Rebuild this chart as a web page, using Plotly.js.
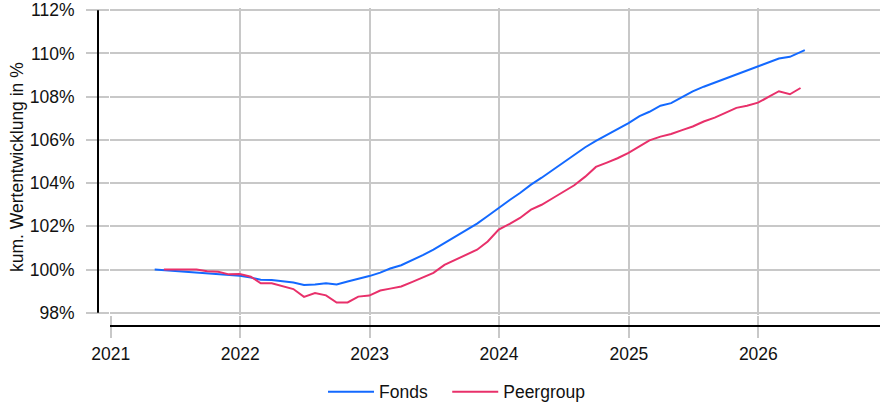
<!DOCTYPE html>
<html>
<head>
<meta charset="utf-8">
<script src="https://cdn.plot.ly/plotly-3.0.1.min.js"></script>
<style>html,body{margin:0;padding:0;background:#fff}#chart{width:880px;height:406px}</style>
</head>
<body>
<div id="chart"></div>
<script>
// Peergroup: monthly values (month ends)
const peerDates = [
 '2021-05-31','2021-06-30','2021-07-31','2021-08-31','2021-09-30','2021-10-31','2021-11-30','2021-12-31',
 '2022-01-31','2022-02-28','2022-03-31','2022-04-30','2022-05-31','2022-06-30','2022-07-31','2022-08-31','2022-09-30','2022-10-31','2022-11-30','2022-12-31',
 '2023-01-31','2023-02-28','2023-03-31','2023-04-30','2023-05-31','2023-06-30','2023-07-31','2023-08-31','2023-09-30','2023-10-31','2023-11-30','2023-12-31',
 '2024-01-31','2024-02-29','2024-03-31','2024-04-30','2024-05-31','2024-06-30','2024-07-31','2024-08-31','2024-09-30','2024-10-31','2024-11-30','2024-12-31',
 '2025-01-31','2025-02-28','2025-03-31','2025-04-30','2025-05-31','2025-06-30','2025-07-31','2025-08-31','2025-09-30','2025-10-31','2025-11-30','2025-12-31',
 '2026-01-31','2026-02-28','2026-03-31','2026-04-30'
];
const peerValues = [
 100.0,100.0,99.98,100.0,99.92,99.9,99.78,99.8,
 99.67,99.37,99.37,99.25,99.1,98.74,98.92,98.81,98.48,98.48,98.75,98.8,
 99.03,99.12,99.22,99.42,99.63,99.85,100.22,100.45,100.7,100.92,101.3,101.85,
 102.12,102.39,102.77,103.0,103.3,103.6,103.9,104.3,104.75,104.95,105.15,105.4,
 105.7,105.98,106.15,106.27,106.45,106.62,106.85,107.03,107.25,107.48,107.58,107.72,
 108.0,108.25,108.11,108.4
];
// Fonds
const fondsDates = ['2021-05-05'].concat(peerDates, ['2026-05-12']);
const fondsValues = [
 100.0,
 99.97,99.94,99.91,99.87,99.83,99.8,99.76,99.72,
 99.63,99.53,99.52,99.46,99.4,99.29,99.31,99.37,99.31,99.45,99.56,99.7,
 99.86,100.05,100.2,100.42,100.67,100.92,101.22,101.5,101.82,102.13,102.48,102.87,
 103.22,103.54,103.93,104.25,104.6,104.97,105.33,105.66,105.95,106.23,106.48,106.78,
 107.1,107.3,107.58,107.7,107.98,108.24,108.46,108.65,108.83,109.02,109.2,109.37,
 109.57,109.76,109.84,110.05,
 110.15
];
const seriesNames = ['Fonds', 'Peergroup'];
const yTicks = [98,100,102,104,106,108,110,112];
const yTickText = yTicks.map(v => v + '%');
const xTickYears = ['2021','2022','2023','2024','2025','2026'];
const xTickVals = xTickYears.map(y => y + '-01-01');
const xRange = ['2020-12-30','2026-12-10'];

const font = {family: 'Liberation Sans, Arial, sans-serif', size: 17.5, color: '#111'};
const grid = '#c8c8c8';

const traces = [
 {x: fondsDates, y: fondsValues, name: seriesNames[0] + '\u00a0\u00a0\u00a0', type: 'scatter', mode: 'lines',
  line: {color: '#1369FF', width: 2}},
 {x: peerDates, y: peerValues, name: seriesNames[1], type: 'scatter', mode: 'lines',
  line: {color: '#E8306A', width: 2}}
];

const layout = {
 width: 880, height: 406,
 margin: {l: 110, r: 0, t: 8, b: 91, autoexpand: false},
 paper_bgcolor: '#fff', plot_bgcolor: '#fff',
 font: font,
 showlegend: true,
 legend: {orientation: 'h', x: (323-110)/770, xanchor: 'left', y: -0.25, yanchor: 'middle',
          font: font, itemwidth: 46, traceorder: 'normal'},
 xaxis: {type: 'date', range: xRange, tickvals: xTickVals.slice(1), showticklabels: false,
         ticks: '', showgrid: true, gridcolor: grid, gridwidth: 2, zeroline: false, showline: false},
 xaxis2: {type: 'date', range: xRange, overlaying: 'x', anchor: 'y', side: 'bottom',
          tickvals: xTickVals, ticktext: xTickYears, showgrid: false, zeroline: false, showline: false,
          ticks: 'outside', ticklen: 22, tickwidth: 2, tickcolor: grid, tickfont: font, ticklabelstandoff: 1},
 yaxis: {range: [97.9, 112.1], tickvals: yTicks, ticktext: yTickText, showgrid: true, gridcolor: grid,
         gridwidth: 2, zeroline: false, showline: false, ticks: 'outside', ticklen: 23, tickwidth: 2,
         tickcolor: grid, tickfont: font, ticklabelstandoff: 8},
 annotations: [
  {text: 'kum. Wertentwicklung in %', textangle: -90, xref: 'paper', yref: 'paper',
   x: (16.5-110)/770, y: (315-167.5)/307, xanchor: 'center', yanchor: 'middle', showarrow: false, font: font}
 ],
 shapes: [
  {type: 'line', xref: 'paper', yref: 'y', x0: -12/770, x1: -12/770, y0: 98, y1: 112,
   line: {color: '#000', width: 2}},
  {type: 'line', xref: 'paper', yref: 'paper', x0: 0, x1: 1, y0: -11/307, y1: -11/307,
   line: {color: '#000', width: 2}}
 ]
};
// empty trace so that the tick axis xaxis2 is drawn
traces.push({x: [xRange[0]], y: [null], xaxis: 'x2', yaxis: 'y', showlegend: false, hoverinfo: 'skip', mode: 'lines'});

Plotly.newPlot('chart', traces, layout, {staticPlot: true});
</script>
</body>
</html>
